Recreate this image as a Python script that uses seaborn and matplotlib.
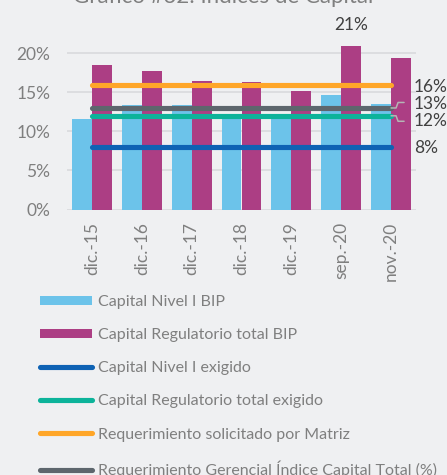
import matplotlib
matplotlib.use("Agg")
import matplotlib.pyplot as plt
from matplotlib.lines import Line2D
from matplotlib.patches import Patch
import seaborn as sns
import pandas as pd

# Dates on the category axis
fechas = ["dic.-15", "dic.-16", "dic.-17", "dic.-18", "dic.-19", "sep.-20", "nov.-20"]

# Bank ratios (%)
capital_nivel1_bip = [11.6, 13.4, 13.4, 12.0, 11.9, 14.6, 13.5]
capital_regulatorio_bip = [18.5, 17.7, 16.4, 16.3, 15.2, 20.9, 19.4]

# Requirements (%)
nivel1_exigido = [8, 8, 8, 8, 8, 8, 8]
regulatorio_exigido = [12, 12, 12, 12, 12, 12, 12]
requerimiento_matriz = [16, 16, 16, 16, 16, 16, 16]
requerimiento_gerencial = [13, 13, 13, 13, 13, 13, 13]

y_ticks = [0, 5, 10, 15, 20]

serie_barras = ["Capital Nivel I BIP", "Capital Regulatorio total BIP"]
serie_lineas = [
    "Capital Nivel I exigido",
    "Capital Regulatorio total exigido",
    "Requerimiento solicitado por Matriz",
    "Requerimiento Gerencial Índice Capital Total (%)",
]

BG = "#EFF0F2"
C_AZUL_CLARO = "#6CC3EA"
C_MAGENTA = "#AC3E84"
C_AZUL = "#0E62B4"
C_VERDE = "#0CB39A"
C_NARANJA = "#FFA628"
C_GRIS = "#5D666D"
TXT = "#7F7F7F"
TXT_DARK = "#404040"
GRID = "#DCDDE0"

sns.set_theme(style="white")
plt.rcParams["font.family"] = ["Lato", "DejaVu Sans"]

W, H = 447, 475
fig = plt.figure(figsize=(W / 100, H / 100), dpi=100)
fig.patch.set_facecolor(BG)

YMAX = 22.0
px_per_pct = 7.81
ax_left, ax_right, ax_bottom = 67, 416, 209.5
ax_h = YMAX * px_per_pct
ax = fig.add_axes([ax_left / W, 1 - ax_bottom / H, (ax_right - ax_left) / W, ax_h / H])
ax.set_facecolor(BG)

df = pd.DataFrame({
    "fecha": fechas * 2,
    "valor": capital_nivel1_bip + capital_regulatorio_bip,
    "serie": [serie_barras[0]] * len(fechas) + [serie_barras[1]] * len(fechas),
})
sns.barplot(data=df, x="fecha", y="valor", hue="serie",
            palette=[C_AZUL_CLARO, C_MAGENTA], saturation=1, width=0.8,
            linewidth=0, legend=False, ax=ax, zorder=2)

xs = list(range(len(fechas)))
line_specs = [
    (nivel1_exigido, C_AZUL),
    (regulatorio_exigido, C_VERDE),
    (requerimiento_matriz, C_NARANJA),
    (requerimiento_gerencial, C_GRIS),
]
for vals, col in line_specs:
    sns.lineplot(x=xs, y=vals, color=col, linewidth=3.7, ax=ax,
                 solid_capstyle="round", zorder=3)

ax.set_xlim(-0.5, len(fechas) - 0.5)
ax.set_ylim(0, YMAX)
ax.set_yticks(y_ticks)
ax.set_yticklabels([f"{t}%" for t in y_ticks])
for t in y_ticks:
    ax.axhline(t, color=GRID, linewidth=1.4, zorder=0)
for s in ax.spines.values():
    s.set_visible(False)
ax.set_xlabel("")
ax.set_ylabel("")
ax.tick_params(axis="y", length=0, pad=12, labelsize=12.5, labelcolor=TXT)
ax.tick_params(axis="x", length=0, pad=9, labelsize=12.5, labelcolor=TXT, rotation=90)

# Value labels at the right end of each requirement line
cat_px = (ax_right - ax_left) / len(fechas)
last = xs[-1]
def lbl(v, dy_px):
    ax.annotate(f"{v:.0f}%", xy=(last, v), xytext=(23, dy_px),
                textcoords="offset pixels", ha="left", va="center",
                fontsize=12.5, color=TXT_DARK, zorder=5)

lbl(requerimiento_matriz[-1], -2)
lbl(requerimiento_gerencial[-1], 3.5)
lbl(regulatorio_exigido[-1], -5.5)
lbl(nivel1_exigido[-1], -1)

# Leader lines for the two close labels
def leader(v, sign):
    pts_px = [(0, 0), (5, 0), (7, 5.5), (13, 5.5)]
    lx = [last + p[0] / cat_px for p in pts_px]
    ly = [v + sign * p[1] / px_per_pct for p in pts_px]
    ax.plot(lx, ly, color="#B5B5B5", linewidth=1.1, zorder=4, clip_on=False)

leader(requerimiento_gerencial[-1], 1)
leader(regulatorio_exigido[-1], -1)

# Label above the highest bar
i_max = capital_regulatorio_bip.index(max(capital_regulatorio_bip))
ax.annotate(f"{max(capital_regulatorio_bip):.0f}%", xy=(i_max + 0.2, max(capital_regulatorio_bip)),
            xytext=(0, 21), textcoords="offset pixels", ha="center", va="center",
            fontsize=12.5, color=TXT_DARK, zorder=5)

fig.text(0.5, 1 - 3 / H, "Gráfico #32: Índices de Capital", ha="center", va="baseline",
         fontsize=16, color=TXT)

handles = [
    Patch(facecolor=C_AZUL_CLARO, edgecolor="none"),
    Patch(facecolor=C_MAGENTA, edgecolor="none"),
]
for _, col in line_specs:
    handles.append(Line2D([0], [0], color=col, linewidth=3.7, solid_capstyle="round"))
labels = serie_barras + serie_lineas
leg = fig.legend(handles, labels, loc="upper left", bbox_to_anchor=(40 / W, 1 - 295 / H),
                 frameon=False, fontsize=11.5, labelcolor=TXT, handlelength=3.25,
                 handleheight=0.55, handletextpad=0.4, labelspacing=1.2,
                 borderpad=0, borderaxespad=0)

fig.savefig("out.png", dpi=100, facecolor=BG)
